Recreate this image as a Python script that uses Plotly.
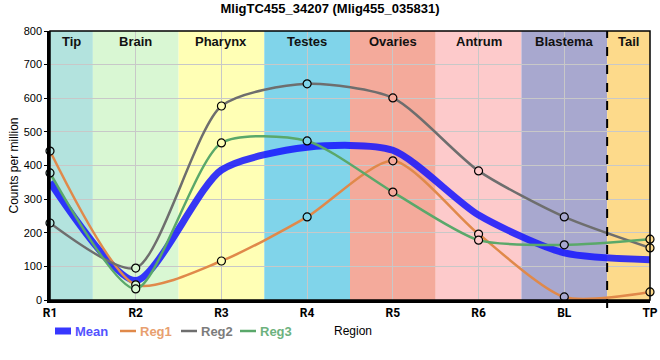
import plotly.graph_objects as go

categories = ["R1", "R2", "R3", "R4", "R5", "R6", "BL", "TP"]
reg1 = [443, 45, 116, 247, 414, 196, 9, 24]
reg2 = [229, 95, 577, 643, 601, 384, 247, 155]
reg3 = [378, 33, 467, 473, 321, 178, 164, 181]
mean = [(a + b + c) / 3 for a, b, c in zip(reg1, reg2, reg3)]

band_names = ["Tip", "Brain", "Pharynx", "Testes", "Ovaries", "Antrum", "Blastema", "Tail"]
band_colors = ["#b3e3de", "#d9f7d3", "#ffffb5", "#80d4ea", "#f4aa9b", "#fdcacb", "#a8a8cf", "#fdda8b"]
y_ticks = [0, 100, 200, 300, 400, 500, 600, 700, 800]

n = len(categories)
xs = list(range(n))
SM = 0.7

# layout geometry (pixels)
W, H = 660, 360
ML, MR, MT, MB = 50, 10, 31, 60
PW, PH = W - ML - MR, H - MT - MB


def px(x):
    return (x - ML) / PW


def py(y):
    return (H - MB - y) / PH


fig = go.Figure()

series = [
    ("Mean", mean, "rgba(20,20,255,0.85)", "#5252ff", 7),
    ("Reg1", reg1, "#e0894a", "#e8a070", 2.5),
    ("Reg2", reg2, "#6e6e6e", "#7c7c7c", 2.5),
    ("Reg3", reg3, "#5aa86a", "#6db27e", 2.5),
]
for nm, vals, col, tcol, w in series:
    fig.add_trace(go.Scatter(
        x=xs, y=vals, mode="lines", name=nm, showlegend=False,
        line=dict(color=col, width=w, shape="spline", smoothing=SM)))

marker_fill = [band_colors[i] for i in range(n)]
for nm, vals, col, tcol, w in series[1:]:
    fig.add_trace(go.Scatter(
        x=xs, y=vals, mode="markers", showlegend=False, cliponaxis=False, name=nm,
        marker=dict(size=8, color=marker_fill, line=dict(color="black", width=1.2))))

shapes = []
annotations = []
for i, (bn, bc) in enumerate(zip(band_names, band_colors)):
    x0 = max(i - 0.5, 0)
    x1 = min(i + 0.5, n - 1)
    shapes.append(dict(type="rect", xref="x", yref="paper", x0=x0, x1=x1, y0=0, y1=1,
                       fillcolor=bc, line=dict(width=0), layer="below"))
    annotations.append(dict(x=(x0 + x1) / 2, y=1, xref="x", yref="paper", yanchor="top", yshift=-1,
                            text="<b>%s</b>" % bn, showarrow=False,
                            font=dict(size=13, color="#111", family="Liberation Sans, Arial")))
shapes.append(dict(type="line", xref="x", yref="paper", x0=n - 1.5, x1=n - 1.5, y0=-0.03, y1=1,
                   line=dict(color="black", width=2, dash="dash")))
shapes.append(dict(type="rect", xref="paper", yref="paper", x0=0, x1=1, y0=0, y1=1,
                   line=dict(color="black", width=1.5)))

# legend (drawn manually for compact symbols)
leg_x = [55, 120, 181, 240]
leg_y = 331
for (nm, vals, col, tcol, w), lx in zip(series, leg_x):
    shapes.append(dict(type="line", xref="paper", yref="paper", x0=px(lx), x1=px(lx + 16),
                       y0=py(leg_y), y1=py(leg_y), line=dict(color=col, width=w)))
    annotations.append(dict(x=px(lx + 18), y=py(leg_y), xref="paper", yref="paper", xanchor="left",
                            yanchor="middle", text="<b>%s</b>" % nm, showarrow=False,
                            font=dict(size=13, color=tcol, family="Liberation Sans, Arial")))
annotations.append(dict(x=px(332), y=py(331), xref="paper", yref="paper", xanchor="left", yanchor="middle",
                        text="Region", showarrow=False, font=dict(size=12, color="black")))

fig.update_layout(
    width=W, height=H,
    margin=dict(l=ML, r=MR, t=MT, b=MB, autoexpand=False),
    paper_bgcolor="white", plot_bgcolor="white",
    title=dict(text="<b>MligTC455_34207 (Mlig455_035831)</b>", x=0.5, xanchor="center", y=0.99, yanchor="top",
               font=dict(size=13, color="black", family="Liberation Sans, Arial")),
    font=dict(family="Liberation Sans, Arial", size=11, color="black"),
    shapes=shapes, annotations=annotations,
    showlegend=False,
)
fig.update_xaxes(
    range=[0, n - 1], tickmode="array", tickvals=xs, ticktext=["<b>%s</b>" % c for c in categories],
    showgrid=True, gridcolor="#c8c8c8", gridwidth=1, layer="above traces", automargin=False,
    showline=True, linecolor="black", linewidth=2.5, zeroline=False,
    tickfont=dict(size=12, family="Roboto, Liberation Sans"), fixedrange=True)
fig.update_yaxes(
    range=[0, 800], tickmode="array", tickvals=y_ticks, automargin=False,
    showgrid=True, gridcolor="#c8c8c8", gridwidth=1,
    showline=True, linecolor="black", linewidth=2.5, zeroline=False,
    ticks="outside", ticklen=3, tickcolor="black",
    tickfont=dict(size=11),
    title=dict(text="Counts per million", font=dict(size=12), standoff=3))

fig.write_html("out.html", config={"displayModeBar": False},
               post_script="document.body.style.margin='0px';")
